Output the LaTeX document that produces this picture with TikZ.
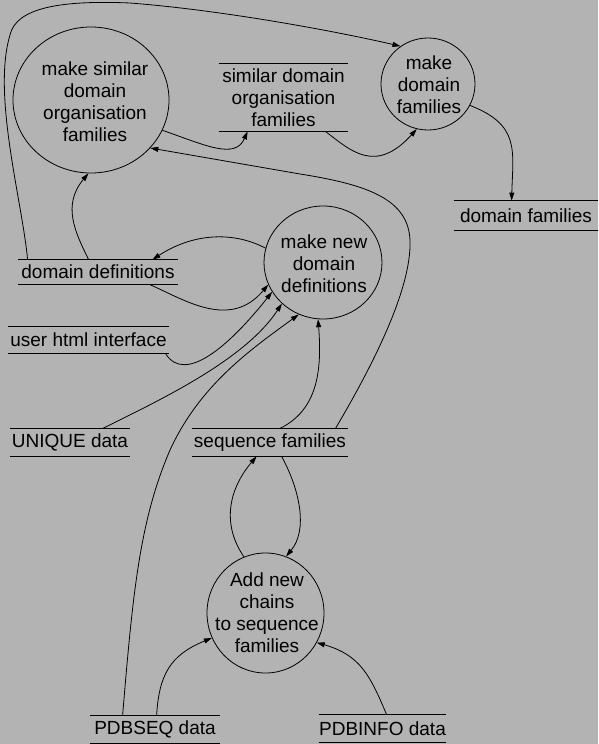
\documentclass[tikz,border=0pt]{standalone}
\usepackage{fontspec}
\setmainfont{Liberation Sans}
\usetikzlibrary{shapes.geometric,arrows.meta}
\definecolor{bggray}{RGB}{179,179,179}
\begin{document}
\begin{tikzpicture}[x=1pt,y=-1pt,line width=0.8pt,>={Triangle[length=8pt,width=5pt]},
  every node/.style={font=\fontsize{19}{22}\selectfont,inner sep=0pt},
  proc/.style={draw,ellipse},
  store/.style={minimum width=#1,minimum height=27pt,align=center,
    append after command={(\tikzlastnode.north west) edge (\tikzlastnode.north east)
      (\tikzlastnode.south west) edge (\tikzlastnode.south east)}}]
\fill[bggray] (0,0) rectangle (598,744);
\useasboundingbox (0,0) rectangle (598,744);

\node[proc,minimum width=156pt,minimum height=146pt] (c1) at (91,100) {};
\node[align=center] (c1t) at (95,102) {make similar\\domain\\organisation\\families};
\node[proc,minimum width=94pt,minimum height=92pt] (c2) at (428,84) {};
\node[align=center] (c2t) at (429,85) {make\\domain\\families};
\node[proc,minimum width=118pt,minimum height=113pt] (c3) at (323,262.5) {};
\node[align=center] (c3t) at (324,263.5) {make new\\domain\\definitions};
\node[proc,minimum width=117pt,minimum height=120pt] (c4) at (265.5,613) {};
\node[align=center] (c4t) at (267,612.5) {Add new\\chains\\to sequence\\families};

\node[store=129pt,minimum height=67pt] (simdom) at (283.5,97.5) {similar domain\\organisation\\families};
\node[store=144pt,minimum height=29pt] (domfam) at (526,215.5) {domain families};
\node[store=160pt,minimum height=24pt] (ddef) at (98,272) {domain definitions};
\node[store=161pt,minimum height=26pt] (html) at (88.5,340) {user html interface};
\node[store=120pt] (uniq) at (70,442.5) {UNIQUE data};
\node[store=156pt] (seqfam) at (270,442.5) {sequence families};
\node[store=130pt] (pdbseq) at (155,729.5) {PDBSEQ data};
\node[store=127pt] (pdbinfo) at (382.5,728.5) {PDBINFO data};

\draw[->] ([xshift=10pt]ddef.north west) .. controls (22,200) and (-8,95) .. (10,35) .. controls (16,8) and (60,0) .. (130,3) .. controls (220,10) and (330,30) .. (c2.126);
\draw[->] ([xshift=71pt]ddef.north west) .. controls (75,232) and (62,205) .. (c1.268);
\draw[->] (c1.-23) .. controls (205,145) and (235,160) .. ([xshift=29pt]simdom.south west);
\draw[->] ([xshift=-23pt]simdom.south east) .. controls (350,150) and (375,175) .. (c2.256);
\draw[->] (c2.-27) .. controls (520,125) and (513,150) .. ([xshift=58pt]domfam.north west);
\draw[->] ([xshift=-13pt]seqfam.north east) .. controls (370,370) and (412,290) .. (410,240) .. controls (408,200) and (370,185) .. (300,174) -- (c1.-39);
\draw[->] (c3.166) .. controls (235,232) and (195,232) .. ([xshift=-26pt]ddef.north east);
\draw[->] ([xshift=-29pt]ddef.south east) .. controls (185,300) and (230,330) .. (c3.202);
\draw[->] ([xshift=-4pt]html.south east) .. controls (185,385) and (230,345) .. (c3.210);
\draw[->] ([xshift=-28pt]uniq.north east) .. controls (160,400) and (245,360) .. (c3.225);
\draw[->] ([xshift=33pt]pdbseq.north west) .. controls (133,590) and (140,520) .. (170,450) .. controls (200,385) and (250,350) .. (c3.245);
\draw[->] ([xshift=88pt]seqfam.north west) .. controls (318,410) and (322,370) .. (c3.265);
\draw[->] (c4.111) .. controls (222,525) and (228,490) .. ([xshift=65pt]seqfam.south west);
\draw[->] ([xshift=90pt]seqfam.south west) .. controls (300,490) and (308,530) .. (c4.70);
\draw[->] ([xshift=67pt]pdbseq.north west) .. controls (159,675) and (170,655) .. (c4.205);
\draw[->] ([xshift=68pt]pdbinfo.north west) .. controls (370,675) and (360,655) .. (c4.-30);
\end{tikzpicture}
\end{document}
